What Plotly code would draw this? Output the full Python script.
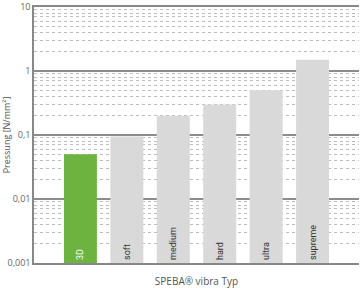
import plotly.graph_objects as go

categories = ["3D", "soft", "medium", "hard", "ultra", "supreme"]
values = [0.05, 0.095, 0.2, 0.3, 0.5, 1.5]
bar_colors = ["#6db33f", "#d9d9d9", "#d9d9d9", "#d9d9d9", "#d9d9d9", "#d9d9d9"]
label_colors = ["#ffffff", "#333333", "#333333", "#333333", "#333333", "#333333"]
tick_vals = [0.001, 0.01, 0.1, 1, 10]
tick_text = ["0,001", "0,01", "0,1", "1", "10"]

fig = go.Figure()
fig.add_trace(go.Bar(
    x=list(range(len(categories))),
    y=values,
    marker=dict(color=bar_colors, line=dict(width=0)),
    text=categories,
    textposition="inside",
    insidetextanchor="start",
    textangle=-90,
    constraintext="none",
    textfont=dict(color=label_colors, size=9, family="Roboto"),
    width=0.71,
    hoverinfo="skip",
))

fig.update_layout(
    width=360, height=288,
    margin=dict(l=34, r=1, t=7, b=25),
    paper_bgcolor="white", plot_bgcolor="white",
    showlegend=False,
    font=dict(family="Open Sans", color="#555555", size=9),
)
fig.update_xaxes(
    range=[-1, 6],
    showticklabels=False, ticks="",
    showgrid=False, zeroline=False, automargin=False,
    showline=True, mirror=True, linecolor="#888888", linewidth=1.5,
    title=dict(text="SPEBA® vibra Typ", font=dict(size=10, color="#555555"), standoff=14),
)
fig.update_yaxes(
    type="log", range=[-3, 1],
    tickvals=tick_vals, ticktext=tick_text,
    tickfont=dict(size=9, color="#666666"),
    ticklabeloverflow="allow",
    ticks="", ticklen=0, automargin=False,
    showgrid=True, gridcolor="#8c8c8c", gridwidth=1.5,
    minor=dict(showgrid=True, gridcolor="#bdbdbd", griddash="dot", gridwidth=1,
               dtick="D1", ticks=""),
    showline=True, linecolor="#888888", linewidth=1.5,
    zeroline=False,
    title=dict(text="Pressung [N/mm²]", font=dict(size=9, color="#555555"), standoff=2),
)

fig.write_html("out.html")
